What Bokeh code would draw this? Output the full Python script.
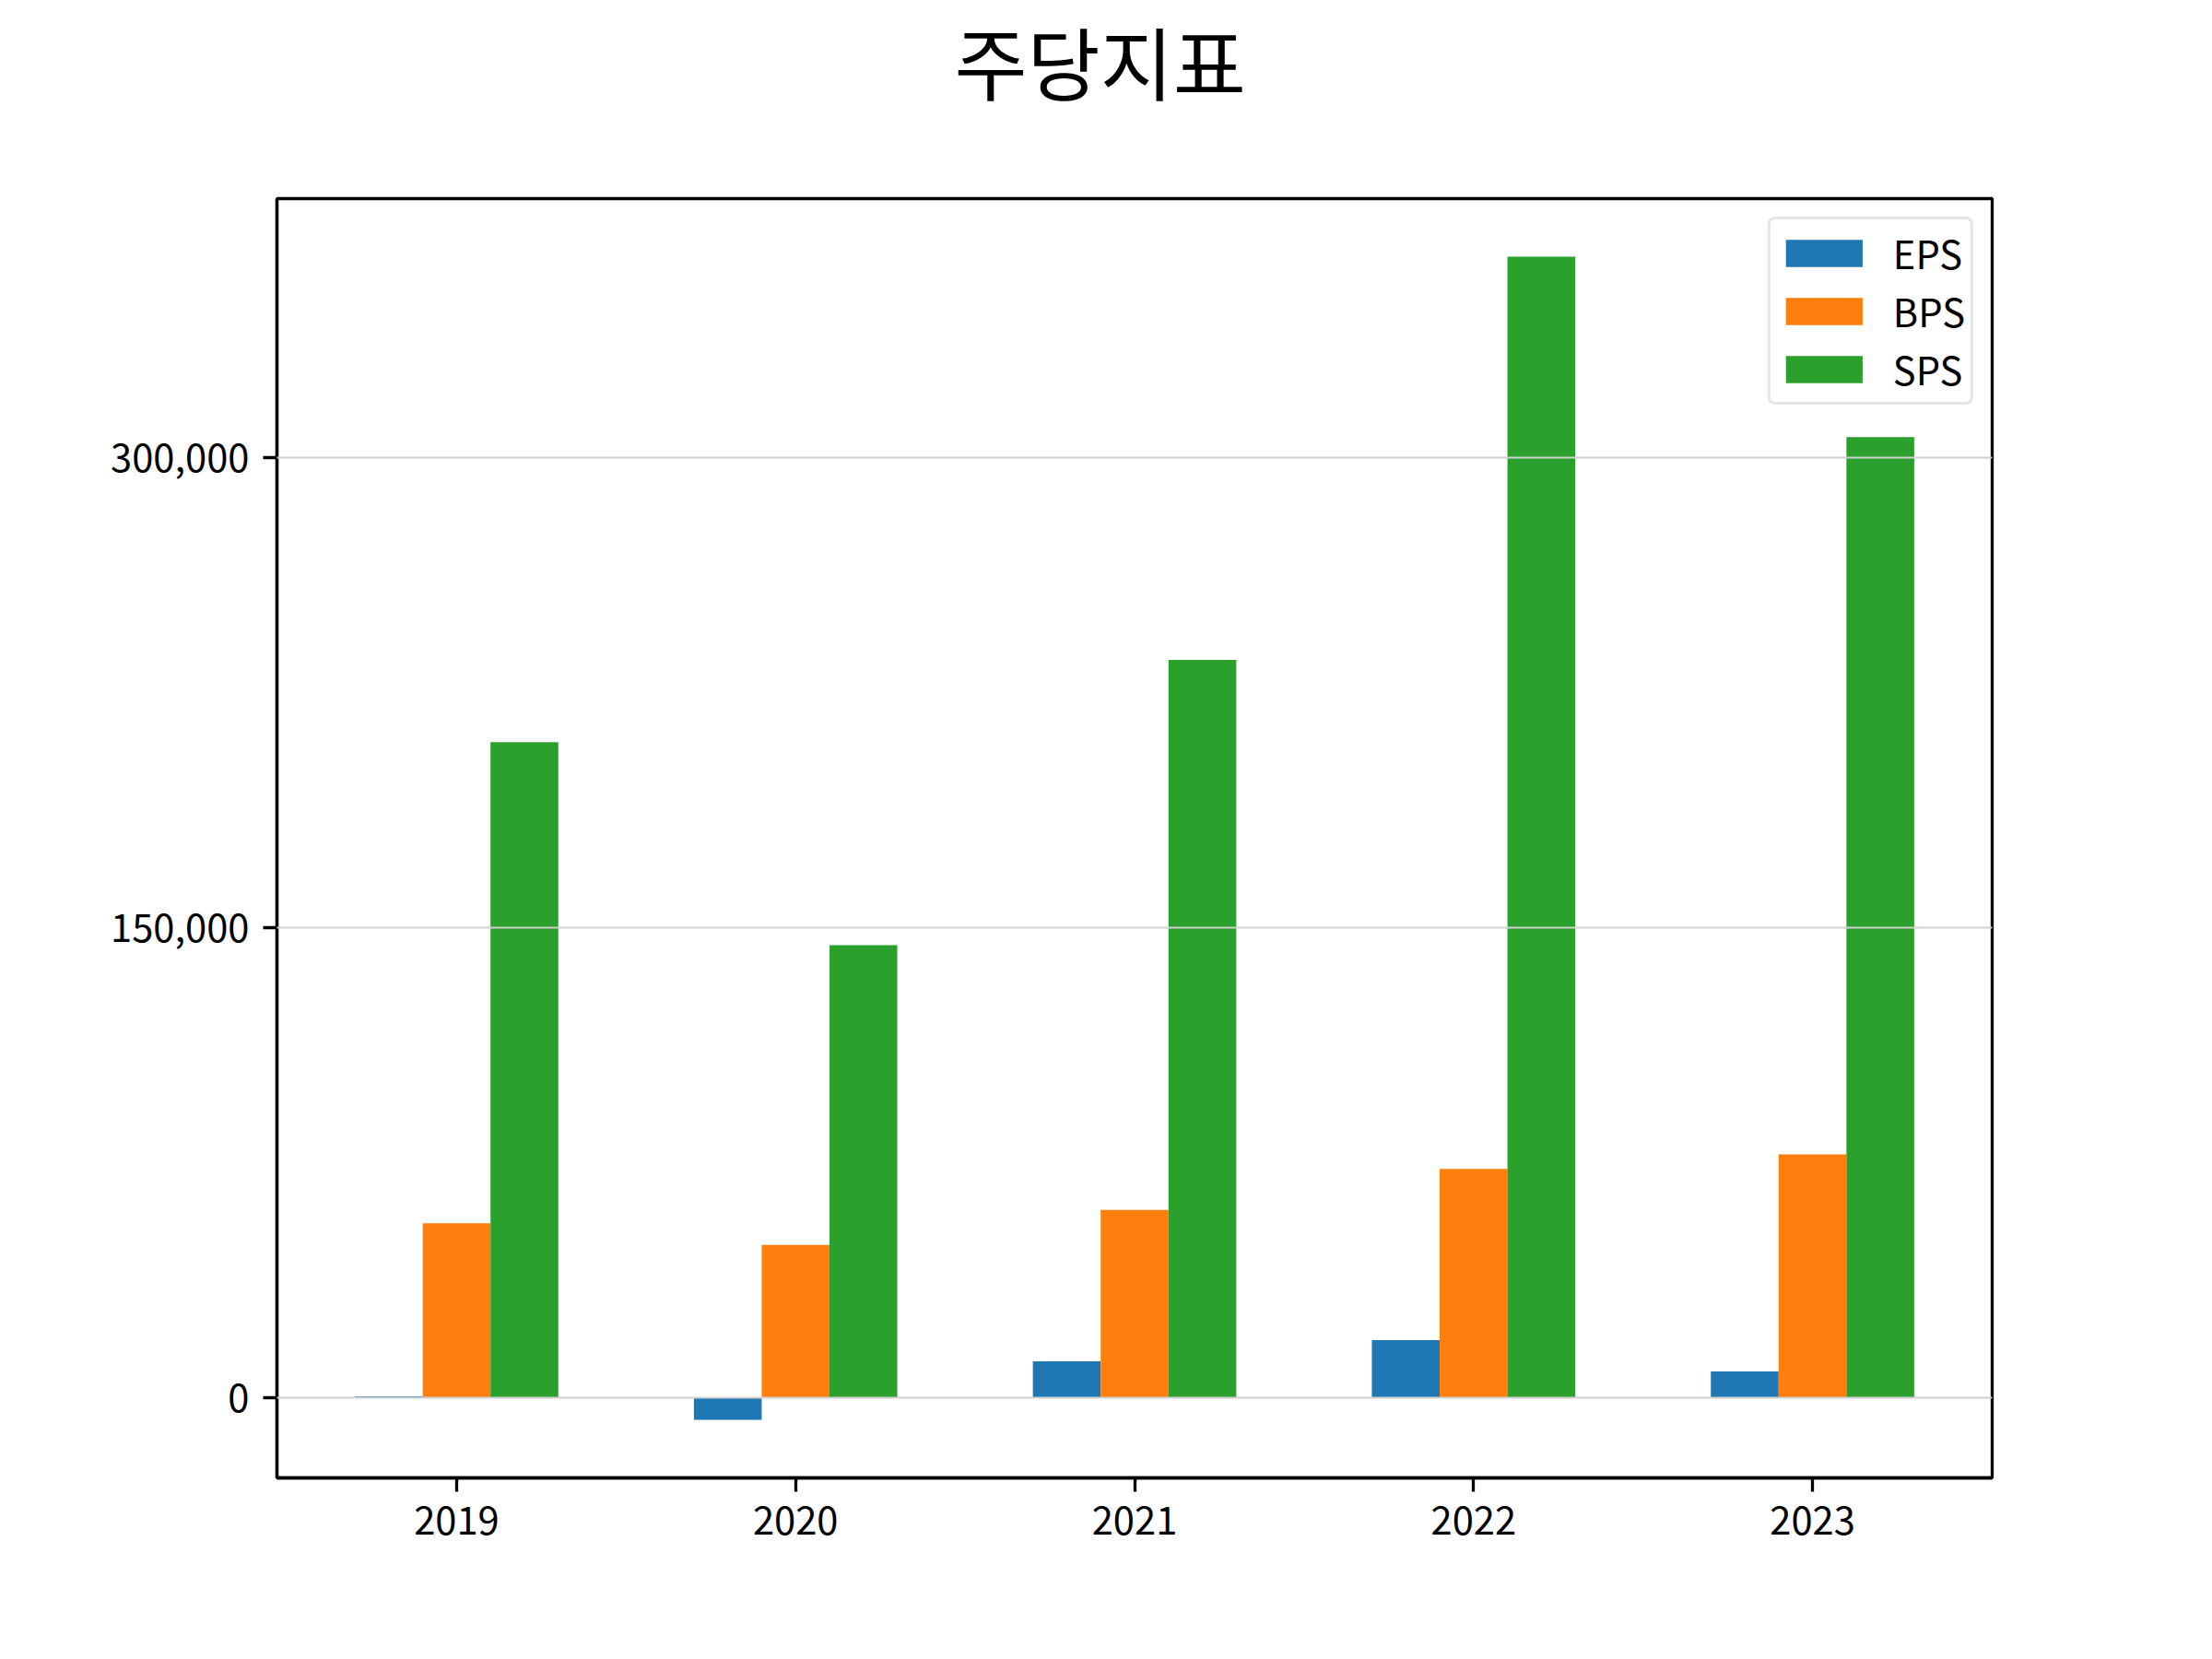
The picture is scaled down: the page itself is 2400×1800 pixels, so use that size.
from bokeh.plotting import figure
from bokeh.models import Range1d, FixedTicker, NumeralTickFormatter
from bokeh.embed import file_html
from bokeh.resources import INLINE

# ---- data ----
years = ["2019", "2020", "2021", "2022", "2023"]
eps = [400, -7100, 11550, 18300, 8300]
bps = [55660, 48730, 59870, 72980, 77630]
sps = [209250, 144430, 235470, 364200, 306600]
series_names = ["EPS", "BPS", "SPS"]
series_colors = ["#1f77b4", "#ff7f0e", "#2ca02c"]
y_ticks = [0, 150000, 300000]
title_text = "주당지표"

FONT = "Noto Sans CJK KR"
bar_width = 0.2
idx = list(range(len(years)))
series = [eps, bps, sps]

# ranges like matplotlib auto margins (5%)
all_vals = eps + bps + sps
lo = min(0, min(all_vals))
hi = max(0, max(all_vals))
ypad = 0.05 * (hi - lo)
xs_lo = idx[0] - 1.5 * bar_width
xs_hi = idx[-1] + 1.5 * bar_width
xpad = 0.05 * (xs_hi - xs_lo)

p = figure(
    frame_width=1861, frame_height=1388,
    min_border_left=300, min_border_right=231,
    min_border_top=215, min_border_bottom=189,
    x_range=Range1d(xs_lo - xpad, xs_hi + xpad),
    y_range=Range1d(lo - ypad, hi + ypad),
    output_backend="svg", toolbar_location=None,
    title=title_text + "\n", title_location="above",
    background_fill_color="white", border_fill_color="white",
)

# the trailing empty line lifts the title away from the frame
p.title.text_font = FONT
p.title.text_font_size = "86px"
p.title.text_line_height = 0.7
p.title.text_font_style = "normal"
p.title.text_color = "black"
p.title.align = "left"
p.title.offset = 735
p.title.standoff = 0

for k, (name, vals, col) in enumerate(zip(series_names, series, series_colors)):
    xs = [i + (k - 1) * bar_width for i in idx]
    p.vbar(x=xs, top=vals, bottom=0, width=bar_width,
           fill_color=col, line_color=None, legend_label=name)

# grid
p.xgrid.visible = False
p.ygrid.ticker = FixedTicker(ticks=y_ticks)
p.ygrid.grid_line_color = "#d0d0d0"
p.ygrid.grid_line_width = 2
p.ygrid.level = "guide"

# axes
p.xaxis.ticker = FixedTicker(ticks=idx)
p.xaxis.major_label_overrides = {i: y for i, y in zip(idx, years)}
p.yaxis.ticker = FixedTicker(ticks=y_ticks)
p.yaxis.formatter = NumeralTickFormatter(format="0,0")
for ax in (p.xaxis, p.yaxis):
    ax.axis_line_color = "black"
    ax.axis_line_width = 3.3
    ax.major_tick_line_color = "black"
    ax.major_tick_line_width = 3.3
    ax.major_tick_out = 15
    ax.major_tick_in = 0
    ax.minor_tick_line_color = None
    ax.major_label_standoff = 15
    ax.major_label_text_font = FONT
    ax.major_label_text_font_size = "41.7px"
    ax.major_label_text_color = "black"

p.outline_line_color = "black"
p.outline_line_width = 3.3
p.outline_line_alpha = 1.0

# legend
lg = p.legend[0]
lg.location = "top_right"
lg.margin = 20
lg.padding = 6
lg.spacing = 3
lg.glyph_width = 104
lg.glyph_height = 37
lg.label_height = 30
lg.label_standoff = 23
lg.label_text_font = FONT
lg.label_text_font_size = "41.7px"
lg.label_text_color = "black"
lg.label_text_baseline = "middle"
lg.border_line_color = "#cccccc"
lg.border_line_width = 3.3
lg.border_radius = 8
lg.background_fill_color = "white"
lg.background_fill_alpha = 0.8

open("out.html", "w").write(file_html(p, INLINE))
